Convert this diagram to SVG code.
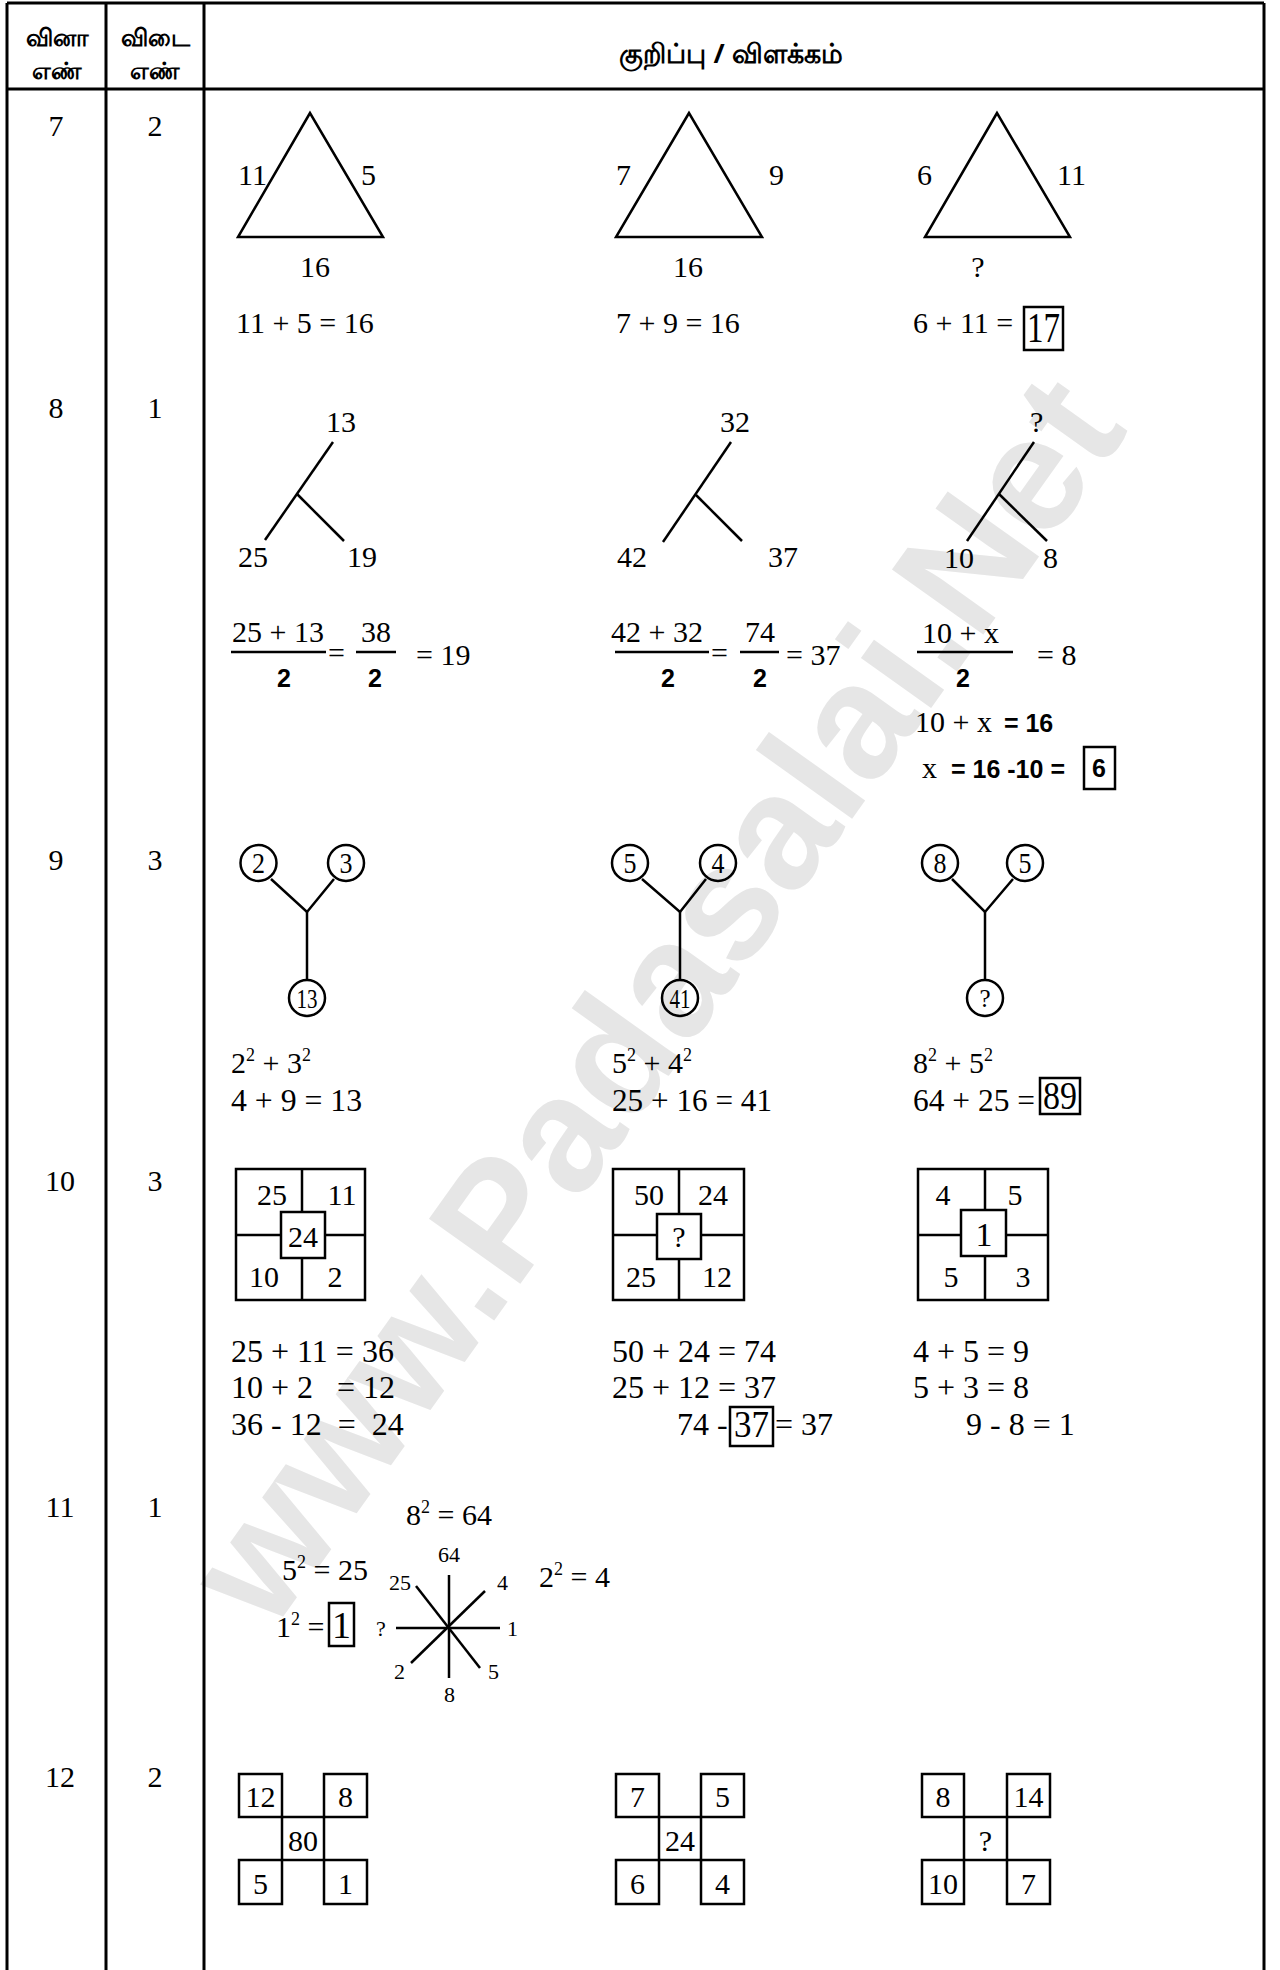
<svg xmlns="http://www.w3.org/2000/svg" width="1280" height="1970" viewBox="0 0 1280 1970">
<style>
.t{font-family:"Liberation Serif","Times New Roman",serif;font-size:30px;fill:#000}
.e{font-size:32px}
.m{text-anchor:middle}
.sup{font-size:18px}
.s{font-family:"Liberation Serif","Times New Roman",serif;font-size:22px;fill:#000}
.g{font-family:"Liberation Sans",Arial,sans-serif;font-weight:bold;font-size:25px;fill:#000}
.h{font-family:"Noto Sans","Liberation Sans",sans-serif;font-weight:bold;font-size:24px;fill:#000;text-anchor:middle}
.ln{stroke:#000;stroke-width:2.5;fill:none}
.bx{stroke:#000;stroke-width:2.5;fill:#fff}
.tb{stroke:#000;stroke-width:3;fill:none}
.wm{font-family:"Liberation Sans",Arial,sans-serif;font-weight:bold;font-size:163px;fill:#e6e6e6}
</style>
<rect width="1280" height="1970" fill="#fff"/>
<text class="wm" text-anchor="middle" transform="translate(700,1032) rotate(-54.5)">www.Padasalai.Net</text>

<g id="table">
<line class="tb" x1="7" y1="3" x2="1264" y2="3"/>
<line class="tb" x1="7" y1="3" x2="7" y2="1970"/>
<line class="tb" x1="1264" y1="3" x2="1264" y2="1970"/>
<line class="tb" x1="106" y1="3" x2="106" y2="1970"/>
<line class="tb" x1="204" y1="3" x2="204" y2="1970"/>
<line class="tb" x1="7" y1="89" x2="1264" y2="89"/>
<text class="h" x="57" y="46">வினா</text>
<text class="h" x="57" y="79">எண்</text>
<text class="h" x="155" y="46">விடை</text>
<text class="h" x="155" y="79">எண்</text>
<text class="h" x="731" y="63" style="font-size:27px">குறிப்பு / விளக்கம்</text>
<text class="t m" x="56" y="136">7</text><text class="t m" x="155" y="136">2</text>
<text class="t m" x="56" y="418">8</text><text class="t m" x="155" y="418">1</text>
<text class="t m" x="56" y="870">9</text><text class="t m" x="155" y="870">3</text>
<text class="t m" x="60" y="1191">10</text><text class="t m" x="155" y="1191">3</text>
<text class="t m" x="60" y="1517">11</text><text class="t m" x="155" y="1517">1</text>
<text class="t m" x="60" y="1787">12</text><text class="t m" x="155" y="1787">2</text>
</g>

<g id="q7">
<polygon class="ln" points="310,113 238,237 383,237"/>
<text class="t" x="238" y="185">11</text><text class="t" x="361" y="185">5</text>
<text class="t m" x="315" y="277">16</text>
<text class="t" x="236" y="333">11 + 5 = 16</text>
<polygon class="ln" points="689,113 616,237 762,237"/>
<text class="t" x="616" y="185">7</text><text class="t" x="769" y="185">9</text>
<text class="t m" x="688" y="277">16</text>
<text class="t" x="616" y="333">7 + 9 = 16</text>
<polygon class="ln" points="997,113 925,237 1070,237"/>
<text class="t" x="917" y="185">6</text><text class="t" x="1057" y="185">11</text>
<text class="t m" x="978" y="277">?</text>
<text class="t" x="913" y="333">6 + 11 =</text>
<rect class="ln" x="1024" y="307" width="39" height="43"/>
<text class="t m" x="1043.5" y="342" style="font-size:42px" textLength="33" lengthAdjust="spacingAndGlyphs">17</text>
</g>

<g id="q8">
<line class="ln" x1="333" y1="442" x2="265" y2="540"/>
<line class="ln" x1="297" y1="494" x2="344" y2="541"/>
<text class="t" x="326" y="432">13</text>
<text class="t" x="238" y="567">25</text><text class="t" x="347" y="567">19</text>
<text class="t" x="232" y="642">25 + 13</text>
<line class="ln" x1="231" y1="652" x2="326" y2="652"/>
<text class="t" x="328" y="663">=</text>
<text class="t" x="361" y="642">38</text>
<line class="ln" x1="356" y1="652" x2="396" y2="652"/>
<text class="g m" x="284" y="687">2</text><text class="g m" x="375" y="687">2</text>
<text class="t" x="416" y="665">= 19</text>

<line class="ln" x1="731" y1="442" x2="663" y2="542"/>
<line class="ln" x1="696" y1="495" x2="742" y2="541"/>
<text class="t" x="720" y="432">32</text>
<text class="t" x="617" y="567">42</text><text class="t" x="768" y="567">37</text>
<text class="t" x="611" y="642">42 + 32</text>
<line class="ln" x1="615" y1="652" x2="709" y2="652"/>
<text class="t" x="711" y="663">=</text>
<text class="t" x="745" y="642">74</text>
<line class="ln" x1="740" y1="652" x2="779" y2="652"/>
<text class="g m" x="668" y="687">2</text><text class="g m" x="760" y="687">2</text>
<text class="t" x="786" y="665">= 37</text>

<line class="ln" x1="1034" y1="442" x2="967" y2="541"/>
<line class="ln" x1="999" y1="494" x2="1047" y2="541"/>
<text class="t" x="1030" y="432">?</text>
<text class="t" x="944" y="568">10</text><text class="t" x="1043" y="568">8</text>
<text class="t" x="922" y="643">10 + x</text>
<line class="ln" x1="917" y1="652" x2="1013" y2="652"/>
<text class="g m" x="963" y="687">2</text>
<text class="t" x="1037" y="665">= 8</text>
<text class="t" x="915" y="732">10 + x<tspan class="g" dx="12">= 16</tspan></text>
<text class="t" x="922" y="778">x<tspan class="g" dx="14">= 16 -10 =</tspan></text>
<rect class="ln" x="1084" y="747" width="31" height="42"/>
<text class="g m" x="1099" y="777">6</text>
</g>

<g id="q9">
<g class="ln">
<circle cx="258.5" cy="863" r="18"/><circle cx="346" cy="863" r="18"/><circle cx="307" cy="998" r="18"/>
<polyline points="271,879 307,912 334,879"/><line x1="307" y1="912" x2="307" y2="980"/>
<circle cx="630" cy="863" r="18"/><circle cx="718" cy="863" r="18"/><circle cx="680" cy="998" r="18"/>
<polyline points="642,879 680,912 706,879"/><line x1="680" y1="912" x2="680" y2="980"/>
<circle cx="940" cy="863" r="18"/><circle cx="1025" cy="863" r="18"/><circle cx="985" cy="998" r="18"/>
<polyline points="952,879 985,912 1013,879"/><line x1="985" y1="912" x2="985" y2="980"/>
</g>
<text class="t m" x="258.5" y="873" textLength="13" lengthAdjust="spacingAndGlyphs">2</text>
<text class="t m" x="346" y="873" textLength="13" lengthAdjust="spacingAndGlyphs">3</text>
<text class="t m" x="307" y="1008" style="font-size:27px" textLength="21" lengthAdjust="spacingAndGlyphs">13</text>
<text class="t m" x="630" y="873" textLength="13" lengthAdjust="spacingAndGlyphs">5</text>
<text class="t m" x="718" y="873" textLength="13" lengthAdjust="spacingAndGlyphs">4</text>
<text class="t m" x="680" y="1008" style="font-size:27px" textLength="21" lengthAdjust="spacingAndGlyphs">41</text>
<text class="t m" x="940" y="873" textLength="13" lengthAdjust="spacingAndGlyphs">8</text>
<text class="t m" x="1025" y="873" textLength="13" lengthAdjust="spacingAndGlyphs">5</text>
<text class="t m" x="985" y="1007" style="font-size:25px">?</text>
<text class="t" x="231" y="1073">2<tspan class="sup" dy="-12">2</tspan><tspan dy="12"> + 3</tspan><tspan class="sup" dy="-12">2</tspan></text>
<text class="t e" x="231" y="1111" textLength="131" lengthAdjust="spacingAndGlyphs">4 + 9 = 13</text>
<text class="t" x="612" y="1073">5<tspan class="sup" dy="-12">2</tspan><tspan dy="12"> + 4</tspan><tspan class="sup" dy="-12">2</tspan></text>
<text class="t e" x="612" y="1111" textLength="160" lengthAdjust="spacingAndGlyphs">25 + 16 = 41</text>
<text class="t" x="913" y="1073">8<tspan class="sup" dy="-12">2</tspan><tspan dy="12"> + 5</tspan><tspan class="sup" dy="-12">2</tspan></text>
<text class="t e" x="913" y="1111" textLength="122" lengthAdjust="spacingAndGlyphs">64 + 25 =</text>
<rect class="ln" x="1040" y="1078" width="40" height="36"/>
<text class="t m" x="1060" y="1109" style="font-size:40px" textLength="34" lengthAdjust="spacingAndGlyphs">89</text>
</g>

<g id="q10">
<rect class="ln" x="236" y="1169" width="129" height="131"/>
<line class="ln" x1="302" y1="1169" x2="302" y2="1300"/>
<line class="ln" x1="236" y1="1235" x2="365" y2="1235"/>
<rect class="bx" x="281" y="1212" width="44" height="46"/>
<text class="t m" x="272" y="1205">25</text><text class="t m" x="342" y="1205">11</text>
<text class="t m" x="303" y="1247">24</text>
<text class="t m" x="264" y="1287">10</text><text class="t m" x="335" y="1287">2</text>

<rect class="ln" x="613" y="1169" width="131" height="131"/>
<line class="ln" x1="679" y1="1169" x2="679" y2="1300"/>
<line class="ln" x1="613" y1="1235" x2="744" y2="1235"/>
<rect class="bx" x="657" y="1214" width="44" height="45"/>
<text class="t m" x="649" y="1205">50</text><text class="t m" x="713" y="1205">24</text>
<text class="t m" x="679" y="1247">?</text>
<text class="t m" x="641" y="1287">25</text><text class="t m" x="717" y="1287">12</text>

<rect class="ln" x="918" y="1169" width="130" height="131"/>
<line class="ln" x1="985" y1="1169" x2="985" y2="1300"/>
<line class="ln" x1="918" y1="1235" x2="1048" y2="1235"/>
<rect class="bx" x="961" y="1210" width="45" height="46"/>
<text class="t m" x="943" y="1205">4</text><text class="t m" x="1015" y="1205">5</text>
<text class="t m" x="984" y="1246" style="font-size:34px">1</text>
<text class="t m" x="951" y="1287">5</text><text class="t m" x="1023" y="1287">3</text>

<text class="t e" x="231" y="1362">25 + 11 = 36</text>
<text class="t e" x="231" y="1398" xml:space="preserve">10 + 2   = 12</text>
<text class="t e" x="231" y="1435" xml:space="preserve">36 - 12  =  24</text>
<text class="t e" x="612" y="1362">50 + 24 = 74</text>
<text class="t e" x="612" y="1398">25 + 12 = 37</text>
<text class="t e" x="677" y="1435">74 -</text>
<rect class="ln" x="730" y="1407" width="43" height="39"/>
<text class="t m" x="751.5" y="1437" style="font-size:38px" textLength="35" lengthAdjust="spacingAndGlyphs">37</text>
<text class="t e" x="775" y="1435">= 37</text>
<text class="t e" x="913" y="1362">4 + 5 = 9</text>
<text class="t e" x="913" y="1398">5 + 3 = 8</text>
<text class="t e" x="966" y="1435">9 - 8 = 1</text>
</g>

<g id="q11">
<text class="t" x="406" y="1525">8<tspan class="sup" dy="-12">2</tspan><tspan dy="12"> = 64</tspan></text>
<text class="t" x="282" y="1580">5<tspan class="sup" dy="-12">2</tspan><tspan dy="12"> = 25</tspan></text>
<text class="t" x="539" y="1587">2<tspan class="sup" dy="-12">2</tspan><tspan dy="12"> = 4</tspan></text>
<text class="t" x="276" y="1637">1<tspan class="sup" dy="-12">2</tspan><tspan dy="12"> =</tspan></text>
<rect class="ln" x="329" y="1603" width="25" height="43"/>
<text class="t m" x="341.5" y="1638" style="font-size:38px">1</text>
<g class="ln">
<line x1="449" y1="1575" x2="449" y2="1678"/>
<line x1="396" y1="1628" x2="500" y2="1628"/>
<line x1="416" y1="1586" x2="480" y2="1668"/>
<line x1="485" y1="1591" x2="411" y2="1663"/>
</g>
<text class="s m" x="449" y="1562">64</text>
<text class="s" x="389" y="1590">25</text>
<text class="s" x="497" y="1590">4</text>
<text class="s" x="376" y="1636">?</text>
<text class="s" x="507" y="1636">1</text>
<text class="s" x="394" y="1679">2</text>
<text class="s" x="488" y="1679">5</text>
<text class="s m" x="449.5" y="1702">8</text>
</g>

<g id="q12">
<g class="ln">
<rect x="239" y="1774" width="43" height="43"/><rect x="324" y="1774" width="43" height="43"/>
<rect x="282" y="1817" width="42" height="43"/>
<rect x="239" y="1860" width="43" height="44"/><rect x="324" y="1860" width="43" height="44"/>
<rect x="616" y="1774" width="43" height="43"/><rect x="701" y="1774" width="43" height="43"/>
<rect x="659" y="1817" width="42" height="43"/>
<rect x="616" y="1860" width="43" height="44"/><rect x="701" y="1860" width="43" height="44"/>
<rect x="922" y="1774" width="42" height="43"/><rect x="1007" y="1774" width="43" height="43"/>
<rect x="964" y="1817" width="43" height="43"/>
<rect x="922" y="1860" width="42" height="44"/><rect x="1007" y="1860" width="43" height="44"/>
</g>
<text class="t m" x="260.5" y="1807">12</text><text class="t m" x="345.5" y="1807">8</text>
<text class="t m" x="303" y="1851">80</text>
<text class="t m" x="260.5" y="1894">5</text><text class="t m" x="345.5" y="1894">1</text>
<text class="t m" x="637.5" y="1807">7</text><text class="t m" x="722.5" y="1807">5</text>
<text class="t m" x="680" y="1851">24</text>
<text class="t m" x="637.5" y="1894">6</text><text class="t m" x="722.5" y="1894">4</text>
<text class="t m" x="943" y="1807">8</text><text class="t m" x="1028.5" y="1807">14</text>
<text class="t m" x="985.5" y="1851">?</text>
<text class="t m" x="943" y="1894">10</text><text class="t m" x="1028.5" y="1894">7</text>
</g>
</svg>
